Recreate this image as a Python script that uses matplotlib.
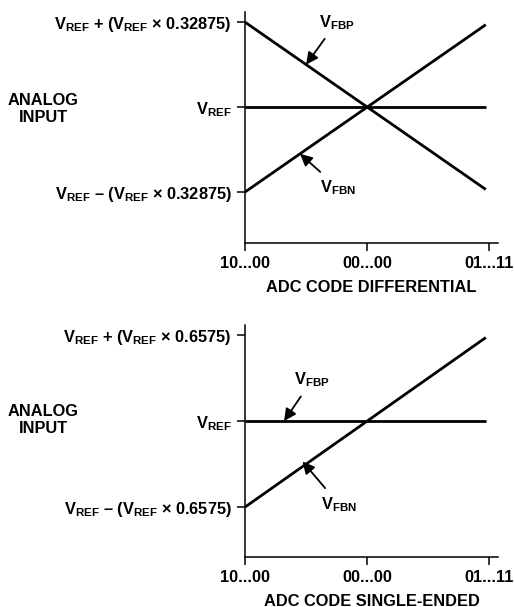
import matplotlib
matplotlib.use("Agg")
import matplotlib.pyplot as plt

plt.rcParams['font.family'] = ['Liberation Sans', 'DejaVu Sans']
plt.rcParams['font.weight'] = 'bold'
plt.rcParams['mathtext.fontset'] = 'custom'
plt.rcParams['mathtext.rm'] = 'Liberation Sans:bold'
plt.rcParams['mathtext.it'] = 'Liberation Sans:bold'
plt.rcParams['mathtext.bf'] = 'Liberation Sans:bold'

# data, in units of VREF
code_ticks = [-1.0, 0.0, 1.0]
code_labels = ['10...00', '00...00', '01...11']
line_x = [-1.0, 0.97]

diff_span = 0.32875
diff_vfbp = [1.32875, 0.6811]
diff_vfbn = [0.67125, 1.3189]
diff_vref = [1.0, 1.0]
diff_yticks = [0.67125, 1.0, 1.32875]
diff_ylabels = [r'V$_\mathrm{REF}$ – (V$_\mathrm{REF}$ × 0.32875)', r'V$_\mathrm{REF}$',
                r'V$_\mathrm{REF}$ + (V$_\mathrm{REF}$ × 0.32875)']

se_span = 0.6575
se_vfbp = [1.0, 1.0]
se_vfbn = [0.3425, 1.6378]
se_yticks = [0.3425, 1.0, 1.6575]
se_ylabels = [r'V$_\mathrm{REF}$ – (V$_\mathrm{REF}$ × 0.6575)', r'V$_\mathrm{REF}$',
              r'V$_\mathrm{REF}$ + (V$_\mathrm{REF}$ × 0.6575)']

fs = 11.8
fig = plt.figure(figsize=(5.14, 6.07), dpi=100)
ax1 = fig.add_axes([0.4767, 0.5997, 0.4922, 0.3806])
ax2 = fig.add_axes([0.4767, 0.0824, 0.4922, 0.3822])


def style(ax, yticks, ylabels, ylim, xlabel):
    for s in ['top', 'right']:
        ax.spines[s].set_visible(False)
    for s in ['left', 'bottom']:
        ax.spines[s].set_linewidth(1.1)
    ax.set_xlim(-1.0, 1.07)
    ax.set_ylim(*ylim)
    ax.set_xticks(code_ticks)
    ax.set_xticklabels(code_labels, fontsize=fs, fontweight='bold')
    ax.set_yticks(yticks)
    ax.set_yticklabels(ylabels, fontsize=fs, fontweight='bold')
    ax.tick_params(length=6, width=1.1, pad=3.5)
    ax.set_xlabel(xlabel, fontsize=fs, fontweight='bold', labelpad=6)


lw = 2.0
ax1.plot(line_x, diff_vfbp, color='black', lw=lw, solid_capstyle='butt')
ax1.plot(line_x, diff_vfbn, color='black', lw=lw, solid_capstyle='butt')
ax1.plot(line_x, diff_vref, color='black', lw=lw, solid_capstyle='butt')
style(ax1, diff_yticks, diff_ylabels, (1 - 1.6 * diff_span, 1 + 1.12 * diff_span),
      'ADC CODE DIFFERENTIAL')

ax2.plot(line_x, se_vfbp, color='black', lw=lw, solid_capstyle='butt')
ax2.plot(line_x, se_vfbn, color='black', lw=lw, solid_capstyle='butt')
style(ax2, se_yticks, se_ylabels, (1 - 1.58 * se_span, 1 + 1.116 * se_span),
      'ADC CODE SINGLE-ENDED')

arrow = dict(arrowstyle='-|>', color='black', lw=1.3, mutation_scale=18,
             shrinkA=4, shrinkB=0)

ax1.annotate(r'V$_\mathrm{FBP}$', xy=(-0.5, 1 + 0.5 * diff_span),
             xytext=(-0.25, 1 + 1.0 * diff_span), fontsize=fs, fontweight='bold',
             ha='center', va='center', arrowprops=arrow)
ax1.annotate(r'V$_\mathrm{FBN}$', xy=(-0.55, 1 - 0.55 * diff_span),
             xytext=(-0.24, 1 - 0.95 * diff_span), fontsize=fs, fontweight='bold',
             ha='center', va='center', arrowprops=arrow)

ax2.annotate(r'V$_\mathrm{FBP}$', xy=(-0.68, 1.0),
             xytext=(-0.45, 1 + 0.48 * se_span), fontsize=fs, fontweight='bold',
             ha='center', va='center', arrowprops=arrow)
ax2.annotate(r'V$_\mathrm{FBN}$', xy=(-0.53, 1 - 0.47 * se_span),
             xytext=(-0.23, 1 - 0.97 * se_span), fontsize=fs, fontweight='bold',
             ha='center', va='center', arrowprops=arrow)

fig.text(43 / 514, 1 - 109 / 607, 'ANALOG\nINPUT', fontsize=fs, fontweight='bold',
         ha='center', va='center', linespacing=1.2)
fig.text(43 / 514, 1 - 420 / 607, 'ANALOG\nINPUT', fontsize=fs, fontweight='bold',
         ha='center', va='center', linespacing=1.2)

fig.savefig('out.png', dpi=100)
